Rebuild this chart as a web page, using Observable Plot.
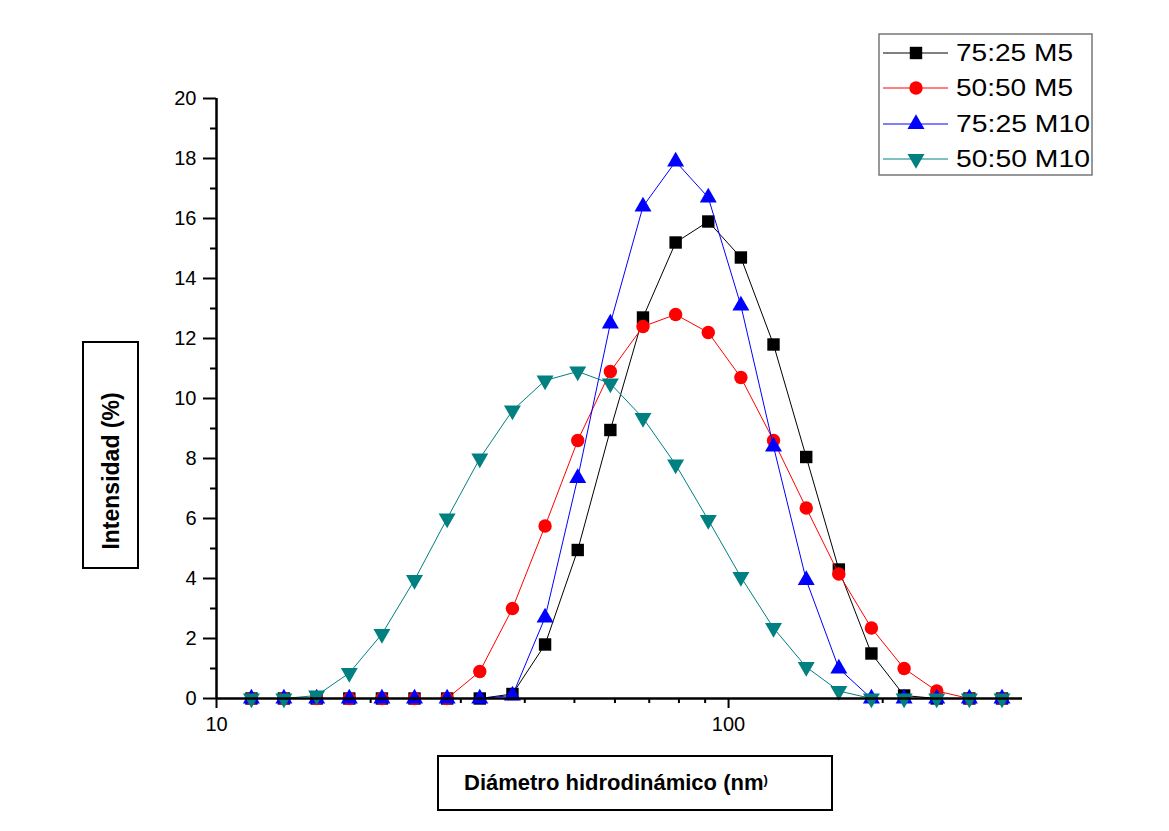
<!DOCTYPE html>
<html><head><meta charset="utf-8">
<script src="https://cdn.jsdelivr.net/npm/d3@7"></script>
<script src="https://cdn.jsdelivr.net/npm/@observablehq/plot@0.6"></script>
<style>
body{margin:0;background:#fff;}
#chart svg{display:block;}
</style>
</head><body><div id="chart"></div>
<script>
// Hydrodynamic diameter bins (nm)
const diameters = [11.7, 13.54, 15.69, 18.17, 21.04, 24.36, 28.21, 32.67, 37.84, 43.82, 50.75, 58.77, 68.06, 78.82, 91.28, 105.7, 122.4, 141.8, 164.2, 190.1, 220.2, 255.0, 295.3, 342.0];
// Intensity (%) per series
const s7525M5  = [0, 0, 0, 0, 0, 0, 0, 0, 0.15, 1.8, 4.95, 8.95, 12.7, 15.2, 15.9, 14.7, 11.8, 8.05, 4.3, 1.5, 0.1, 0, 0, 0];
const s5050M5  = [0, 0, 0, 0, 0, 0, 0, 0.9, 3.0, 5.75, 8.6, 10.9, 12.4, 12.8, 12.2, 10.7, 8.6, 6.35, 4.15, 2.35, 1.0, 0.25, 0, 0];
const s7525M10 = [0, 0, 0, 0, 0, 0, 0, 0, 0.1, 2.7, 7.35, 12.5, 16.4, 17.9, 16.7, 13.1, 8.4, 3.95, 1.0, 0, 0, 0, 0, 0];
const s5050M10 = [0, 0, 0.1, 0.85, 2.15, 3.95, 6.0, 8.0, 9.6, 10.6, 10.9, 10.5, 9.35, 7.8, 5.95, 4.05, 2.35, 1.05, 0.25, 0, 0, 0, 0, 0];
const seriesNames = ["75:25 M5", "50:50 M5", "75:25 M10", "50:50 M10"];
const seriesColors = ["#000000", "#ff0000", "#0000ff", "#008080"];
const yTicks = [0, 2, 4, 6, 8, 10, 12, 14, 16, 18, 20];
const yMinor = [1, 3, 5, 7, 9, 11, 13, 15, 17, 19];
const xTicks = [10, 100];
const xMinor = [20, 30, 40, 50, 60, 70, 80, 90, 200, 300];
const xTitle = "Diámetro hidrodinámico (nm";
const yTitle = "Intensidad (%)";

const triangleDown = {
  draw(context, size) {
    const sqrt3 = Math.sqrt(3);
    const y = -Math.sqrt(size / (sqrt3 * 3));
    context.moveTo(0, -y * 2);
    context.lineTo(-sqrt3 * y, y);
    context.lineTo(sqrt3 * y, y);
    context.closePath();
  }
};
const seriesSymbols = ["square", "circle", "triangle", triangleDown];
const seriesR = [7, 6.7, 6.3, 6.3];
const allValues = [s7525M5, s5050M5, s7525M10, s5050M10];

const marks = [];
allValues.forEach((vals, i) => {
  const rows = diameters.map((d, j) => ({d, v: vals[j], s: seriesNames[i]}));
  marks.push(Plot.line(rows, {x: "d", y: "v", stroke: seriesColors[i], strokeWidth: 1}));
  marks.push(Plot.dot(rows, {x: "d", y: "v", fill: seriesColors[i], stroke: "none", r: seriesR[i], symbol: seriesSymbols[i]}));
});

const font = "'Liberation Sans', Arial, sans-serif";
const chart = Plot.plot({
  width: 1169, height: 831,
  marginTop: 98, marginRight: 147, marginBottom: 133, marginLeft: 216,
  style: {fontFamily: font, fontSize: "20px", color: "#000", background: "#fff"},
  x: {type: "log", domain: [10, 375]},
  y: {domain: [0, 20]},
  marks: [
    Plot.axisY(yTicks, {tickSize: 13, tickPadding: 7, strokeWidth: 2, label: null, fontSize: 20}),
    Plot.axisY(yMinor, {tickSize: 6, tickFormat: () => "", strokeWidth: 2, label: null}),
    Plot.axisX(xTicks, {tickSize: 10, tickPadding: 8, strokeWidth: 2, label: null, tickFormat: d => String(d), fontSize: 20}),
    Plot.axisX(xMinor, {tickSize: 5, tickFormat: () => "", strokeWidth: 2, label: null}),
    ...marks,
    Plot.ruleX([10], {strokeWidth: 2.5}),
    Plot.ruleY([0], {strokeWidth: 2.5})
  ]
});
document.getElementById("chart").appendChild(chart);

const svg = d3.select(chart);
svg.selectAll("g[aria-label$='tick label']").attr("font-size", 20);
svg.selectAll("g[aria-label$='tick label'] text").attr("font-size", 20);

// Y title box
svg.append("rect").attr("x", 83).attr("y", 342).attr("width", 55).attr("height", 226)
  .attr("fill", "#fff").attr("stroke", "#000").attr("stroke-width", 2);
svg.append("text").attr("transform", "translate(119,471) rotate(-90)")
  .attr("text-anchor", "middle").attr("font-family", font).attr("font-weight", "bold")
  .attr("font-size", 23).attr("fill", "#000").text(yTitle);
// X title box
svg.append("rect").attr("x", 438).attr("y", 756).attr("width", 394).attr("height", 54)
  .attr("fill", "#fff").attr("stroke", "#000").attr("stroke-width", 2);
const xt = svg.append("text").attr("x", 464).attr("y", 790).attr("text-anchor", "start")
  .attr("font-family", font).attr("font-weight", "bold").attr("font-size", 22).attr("fill", "#000");
xt.append("tspan").text(xTitle);
xt.append("tspan").attr("font-size", 13).attr("dy", -6).text(")");

// Legend
const lg = svg.append("g");
lg.append("rect").attr("x", 879).attr("y", 34).attr("width", 213).attr("height", 141)
  .attr("fill", "#fff").attr("stroke", "#777").attr("stroke-width", 1.5);
const rowY = [53, 88, 124, 159];
const legendLen = [117, 117, 134, 134];
const d3Sym = [d3.symbolSquare, d3.symbolCircle, d3.symbolTriangle, triangleDown];
seriesNames.forEach((name, i) => {
  lg.append("line").attr("x1", 883).attr("x2", 948).attr("y1", rowY[i]).attr("y2", rowY[i])
    .attr("stroke", seriesColors[i]).attr("stroke-width", 1);
  lg.append("path").attr("transform", `translate(916,${rowY[i]})`)
    .attr("d", d3.symbol(d3Sym[i], Math.PI * seriesR[i] * seriesR[i])())
    .attr("fill", seriesColors[i]);
  lg.append("text").attr("x", 956).attr("y", rowY[i] + 8).attr("text-anchor", "start")
    .attr("font-family", font).attr("font-size", 23).attr("fill", "#000")
    .attr("textLength", legendLen[i]).attr("lengthAdjust", "spacingAndGlyphs").text(name);
});
</script>
</body></html>
